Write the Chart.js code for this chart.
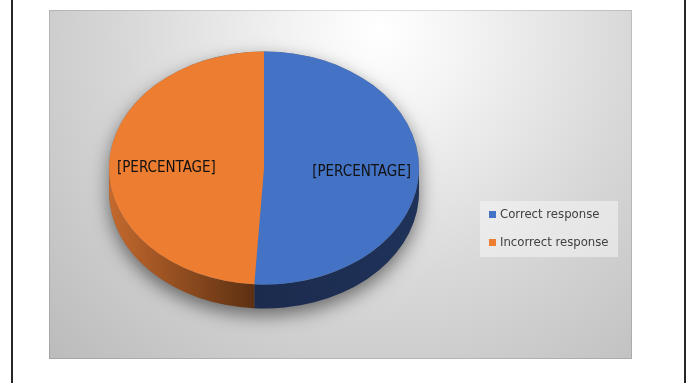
<!DOCTYPE html>
<html>
<head>
<meta charset="utf-8">
<script src="https://cdn.jsdelivr.net/npm/chart.js@4.4.1/dist/chart.umd.min.js"></script>
<style>
  html, body { margin: 0; padding: 0; background: #fff; }
  #wrap { width: 687px; height: 383px; position: relative; }
</style>
</head>
<body>
<div id="wrap"><canvas id="grafico"></canvas></div>
<script>
// dados do gráfico
const categorias = ['Correct response', 'Incorrect response'];
const valores = [51, 49];
const rotulos = ['[PERCENTAGE]', '[PERCENTAGE]'];

const cores = ['#4472c4', '#ed7d31'];
// cor da lateral de cada fatia: [início da fatia, fim da fatia]
const coresLaterais = [['#1f3258', '#1b2b4e'], ['#5c3012', '#c4692d']];

const inclinacao = 116.5 / 155; // achatamento vertical da pizza
const espessura = 24;           // altura da lateral em px
const fonteRotulo = '15px "DejaVu Sans Condensed", "DejaVu Sans", sans-serif';
const fonteLegenda = '13px "DejaVu Sans Condensed", "DejaVu Sans", sans-serif';

// partes da fatia que ficam na metade de baixo (lateral visível)
function trechosLaterais(ini, fim) {
  const volta = Math.PI * 2;
  while (ini < 0) { ini += volta; fim += volta; }
  while (ini >= volta) { ini -= volta; fim -= volta; }
  const trechos = [];
  [[0, Math.PI], [volta, volta + Math.PI]].forEach(([a, b]) => {
    const s = Math.max(ini, a), e = Math.min(fim, b);
    if (e > s) trechos.push([s, e]);
  });
  return trechos;
}

const fundo = {
  id: 'fundo',
  beforeDraw(chart) {
    const ctx = chart.ctx;
    ctx.save();
    ctx.fillStyle = '#ffffff';
    ctx.fillRect(0, 0, chart.width, chart.height);

    // linhas laterais da página
    ctx.fillStyle = '#262626';
    ctx.fillRect(11, 0, 2, chart.height);
    ctx.fillRect(684, 0, 2, chart.height);

    // painel cinza com degradê radial
    const g = ctx.createRadialGradient(380, 30, 0, 380, 30, 460);
    g.addColorStop(0, '#ffffff');
    g.addColorStop(0.18, '#f4f4f4');
    g.addColorStop(0.55, '#d8d8d8');
    g.addColorStop(1, '#bcbcbc');
    ctx.fillStyle = g;
    ctx.fillRect(49, 10, 583, 349);
    ctx.strokeStyle = 'rgba(0,0,0,0.12)';
    ctx.lineWidth = 1;
    ctx.strokeRect(49.5, 10.5, 582, 348);
    ctx.restore();
  }
};

const pizza3d = {
  id: 'pizza3d',
  beforeDatasetsDraw(chart) {
    const ctx = chart.ctx;
    const arcos = chart.getDatasetMeta(0).data;
    const { x, y, outerRadius: r } = arcos[0];
    const ry = r * inclinacao;

    ctx.save();

    // sombra projetada
    ctx.save();
    ctx.shadowColor = 'rgba(0,0,0,0.5)';
    ctx.shadowBlur = 18;
    ctx.shadowOffsetY = 7;
    ctx.beginPath();
    ctx.ellipse(x, y, r, ry, 0, Math.PI, Math.PI * 2);
    ctx.ellipse(x, y + espessura, r, ry, 0, 0, Math.PI);
    ctx.closePath();
    ctx.fillStyle = '#777';
    ctx.fill();
    ctx.restore();

    // laterais das fatias
    arcos.forEach((arco, i) => {
      trechosLaterais(arco.startAngle, arco.endAngle).forEach(([s, e]) => {
        const g = ctx.createLinearGradient(x + r * Math.cos(s), 0, x + r * Math.cos(e), 0);
        g.addColorStop(0, coresLaterais[i][0]);
        g.addColorStop(1, coresLaterais[i][1]);
        ctx.beginPath();
        ctx.ellipse(x, y, r, ry, 0, s, e, false);
        ctx.ellipse(x, y + espessura, r, ry, 0, e, s, true);
        ctx.closePath();
        ctx.fillStyle = g;
        ctx.fill();
      });
    });

    // achata o topo da pizza
    ctx.translate(0, y);
    ctx.scale(1, inclinacao);
    ctx.translate(0, -y);
  },
  afterDatasetsDraw(chart) {
    const ctx = chart.ctx;
    ctx.restore();

    // rótulos das fatias
    const arcos = chart.getDatasetMeta(0).data;
    ctx.save();
    ctx.font = fonteRotulo;
    ctx.fillStyle = '#111111';
    ctx.textAlign = 'center';
    ctx.textBaseline = 'middle';
    arcos.forEach((arco, i) => {
      const meio = (arco.startAngle + arco.endAngle) / 2;
      const d = arco.outerRadius * 0.63;
      ctx.fillText(rotulos[i], arco.x + Math.cos(meio) * d, arco.y + Math.sin(meio) * d * inclinacao + 2);
    });
    ctx.restore();
  },
  afterDraw(chart) {
    // legenda
    const ctx = chart.ctx;
    ctx.save();
    ctx.fillStyle = 'rgba(245,245,245,0.55)';
    ctx.fillRect(480, 201, 138, 56);
    ctx.font = fonteLegenda;
    ctx.textBaseline = 'middle';
    chart.data.labels.forEach((nome, i) => {
      const yy = 215 + i * 28;
      ctx.fillStyle = chart.data.datasets[0].backgroundColor[i];
      ctx.fillRect(489, yy - 4, 7, 7);
      ctx.fillStyle = '#404040';
      ctx.fillText(nome, 500, yy);
    });
    ctx.restore();
  }
};

new Chart(document.getElementById('grafico'), {
  type: 'pie',
  data: {
    labels: categorias,
    datasets: [{
      data: valores,
      backgroundColor: cores,
      borderWidth: 0,
      hoverOffset: 0
    }]
  },
  options: {
    responsive: true,
    maintainAspectRatio: false,
    animation: false,
    events: [],
    layout: { padding: { left: 109, right: 268, top: 13, bottom: 60 } },
    plugins: {
      legend: { display: false },
      tooltip: { enabled: false }
    }
  },
  plugins: [fundo, pizza3d]
});
</script>
</body>
</html>
